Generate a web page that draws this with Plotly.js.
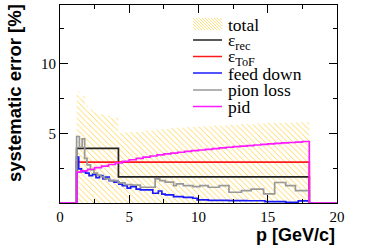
<!DOCTYPE html>
<html>
<head>
<meta charset="utf-8">
<script src="https://cdn.plot.ly/plotly-3.0.1.min.js"></script>
<style>html,body{margin:0;padding:0;background:#fff;}#chart{width:375px;height:249px;}</style>
</head>
<body>
<div id="chart"></div>
<script>
// ---- data (bin edges in GeV/c, values in %) ----
const totalEdges = [1.2, 1.4, 1.6, 1.8, 2.0, 2.4, 2.8, 3.2, 3.6, 4.2, 5, 6, 7, 8, 9, 10, 11, 12, 13, 14, 15, 16, 17, 18];
const totalVals  = [8.0, 7.5, 7.7, 7.0, 6.7, 6.5, 6.35, 6.25, 6.1, 5.05, 5.1, 5.2, 5.3, 5.4, 5.45, 5.5, 5.55, 5.6, 5.65, 5.7, 5.75, 5.75, 5.8];

const recEdges = [1.2, 4.22, 18];
const recVals  = [3.92, 1.87];

const tofEdges = [1.2, 18];
const tofVals  = [2.93];

const feedEdges = [1.2, 1.35, 1.55, 1.85, 2.1, 2.35, 2.6, 2.85, 3.1, 3.3, 3.55, 3.9, 4.25, 4.5, 4.85, 5.1, 5.5, 5.8, 6.7, 7.1, 7.35, 7.6, 8.2, 8.9, 9.6, 9.9, 10.7, 12.2, 13.5, 14.8, 16.3, 17.2, 18];
const feedVals  = [3.29, 2.45, 2.25, 2.14, 1.96, 2.05, 1.82, 1.96, 1.73, 1.85, 1.6, 1.49, 1.35, 1.25, 1.06, 1.18, 1.0, 0.94, 0.7, 0.86, 0.63, 0.58, 0.46, 0.41, 0.34, 0.22, 0.19, 0.17, 0.16, 0.1, 0.04, 0.15];

const pionEdges = [1.2, 1.4, 1.6, 1.78, 1.95, 2.2, 2.45, 2.7, 2.95, 3.2, 3.6, 4.2, 4.7, 5.2, 5.8, 6.87, 7.2, 7.6, 8.2, 8.4, 8.9, 9.6, 10.1, 10.7, 11.5, 12.2, 13.1, 13.8, 14.7, 15.5, 16.3, 17.0, 18];
const pionVals  = [4.77, 4.0, 4.6, 3.2, 2.73, 2.37, 2.14, 2.0, 1.89, 1.75, 1.6, 1.45, 1.32, 1.28, 1.13, 1.73, 1.61, 1.49, 1.25, 1.37, 1.25, 1.17, 1.25, 1.13, 1.25, 0.77, 0.89, 1.0, 0.65, 1.47, 1.25, 0.89];

const pidEdges = [1.2, 1.5, 2.0, 2.5, 3.0, 3.5, 4.0, 4.5, 5.0, 5.5, 6.0, 6.5, 7.0, 7.5, 8.0, 8.5, 9.0, 9.5, 10.0, 10.5, 11.0, 11.5, 12.0, 12.5, 13.0, 13.5, 14.0, 14.5, 15.0, 15.5, 16.0, 16.5, 17.0, 17.5, 18.0];
const pidVals  = [2.21, 2.3, 2.42, 2.53, 2.64, 2.76, 2.88, 2.99, 3.1, 3.2, 3.29, 3.37, 3.45, 3.52, 3.58, 3.64, 3.7, 3.75, 3.8, 3.85, 3.9, 3.95, 4.0, 4.04, 4.08, 4.12, 4.16, 4.2, 4.24, 4.27, 4.31, 4.34, 4.37, 4.41];

const xTicks = [0, 5, 10, 15, 20];
const yTicks = [5, 10];
const seriesNames = ['total', 'ε<sub>rec</sub>', 'ε<sub>ToF</sub>', 'feed down', 'pion loss', 'pid'];
const seriesColors = ['#ffd44a', '#222222', '#ff1a1a', '#1a1aff', '#999999', '#ff1aff'];

// histogram outline padded with empty bins down to 0 and up to 20
function stepXY(edges, vals) {
  return { x: [0].concat(edges, [20]), y: [0].concat(vals, [0, 0]) };
}
function line(edges, vals, color, name) {
  const s = stepXY(edges, vals);
  return { type: 'scatter', mode: 'lines', x: s.x, y: s.y, name: name,
           line: { shape: 'hv', color: color, width: 1.7 }, showlegend: false, hoverinfo: 'skip' };
}

const traces = [
  { type: 'scatter', mode: 'lines', x: totalEdges, y: totalVals.concat([totalVals[totalVals.length - 1]]),
    name: 'total', line: { shape: 'hv', width: 0, color: 'rgba(0,0,0,0)' }, fill: 'tozeroy',
    fillcolor: 'rgba(0,0,0,0)',
    fillpattern: { shape: '\\', fgcolor: seriesColors[0], bgcolor: 'rgba(0,0,0,0)', size: 4, solidity: 0.22, fillmode: 'replace' },
    showlegend: false, hoverinfo: 'skip' },
  line(recEdges, recVals, seriesColors[1], seriesNames[1]),
  line(tofEdges, tofVals, seriesColors[2], seriesNames[2]),
  line(feedEdges, feedVals, seriesColors[3], seriesNames[3]),
  line(pionEdges, pionVals, seriesColors[4], seriesNames[4]),
  line(pidEdges, pidVals, seriesColors[5], seriesNames[5])
];

// pixel helpers for the plot frame (l=60, r=337, t=5, b=203)
const L = 60, R = 337, T = 5, B = 203;
const px = v => (v - L) / (R - L);
const py = v => (B - v) / (B - T);

const shapes = [];
const annotations = [];
const legLineY = [null, 40, 56.5, 73, 90, 106.5];
const legTextY = [25, 41.5, 57.5, 74, 90.5, 106.5];
for (let i = 0; i < seriesNames.length; i++) {
  if (i > 0) {
    shapes.push({ type: 'line', xref: 'paper', yref: 'paper', x0: px(193), x1: px(222), y0: py(legLineY[i]), y1: py(legLineY[i]),
                  line: { color: seriesColors[i], width: 1.5 } });
  }
  annotations.push({ xref: 'paper', yref: 'paper', x: px(227), y: py(legTextY[i]), xanchor: 'left', yanchor: 'middle',
                     text: seriesNames[i], showarrow: false, borderpad: 0,
                     font: { family: 'Liberation Serif, Times New Roman, serif', size: 17.5, color: '#000' } });
}
// hatched sample box for "total"
(function () {
  const x0 = 193, x1 = 222, y0 = 18, y1 = 30;
  for (let k = -(y1 - y0); k < (x1 - x0); k += 3) {
    let sx = x0 + k, sy = y0, ex = x0 + k + (y1 - y0), ey = y1;
    if (sx < x0) { sy = y0 + (x0 - sx); sx = x0; }
    if (ex > x1) { ey = y1 - (ex - x1); ex = x1; }
    shapes.push({ type: 'line', xref: 'paper', yref: 'paper', x0: px(sx), x1: px(ex), y0: py(sy), y1: py(ey),
                  line: { color: seriesColors[0], width: 0.7 } });
  }
})();

// axis titles (ROOT style: aligned to axis ends)
annotations.push({ xref: 'paper', yref: 'paper', x: 1, y: py(235), xanchor: 'right', yanchor: 'middle',
  text: 'p [GeV/c]', showarrow: false, font: { family: 'Liberation Sans, Arial, sans-serif', size: 18, color: '#000', weight: 'bold' } });
annotations.push({ xref: 'paper', yref: 'paper', x: px(14), y: py(2), xanchor: 'center', yanchor: 'top', textangle: -90,
  text: 'systematic error [%]', showarrow: false, font: { family: 'Liberation Sans, Arial, sans-serif', size: 18.5, color: '#000', weight: 'bold' } });

const axisCommon = {
  showline: true, linecolor: '#000', linewidth: 1, mirror: 'allticks',
  ticks: 'inside', ticklen: 8, tickwidth: 1, tickcolor: '#000',
  showgrid: false, zeroline: false, fixedrange: true,
  tickfont: { family: 'Liberation Serif, Times New Roman, serif', size: 15, color: '#000' }
};

const layout = {
  width: 375, height: 249,
  margin: { l: L, r: 375 - R, t: T, b: 249 - B, pad: 0 },
  paper_bgcolor: '#fff', plot_bgcolor: '#fff',
  showlegend: false,
  xaxis: Object.assign({}, axisCommon, { range: [0, 20], tickmode: 'array', tickvals: xTicks,
    minor: { tickmode: 'array', tickvals: [2.5, 7.5, 12.5, 17.5], ticks: 'inside', ticklen: 4, tickcolor: '#000' } }),
  yaxis: Object.assign({}, axisCommon, { range: [0, 14.2], tickmode: 'array', tickvals: yTicks,
    minor: { tickmode: 'array', tickvals: [2.5, 7.5, 12.5], ticks: 'inside', ticklen: 4, tickcolor: '#000' } }),
  shapes: shapes,
  annotations: annotations
};

Plotly.newPlot('chart', traces, layout, { staticPlot: true, displayModeBar: false });
</script>
</body>
</html>
